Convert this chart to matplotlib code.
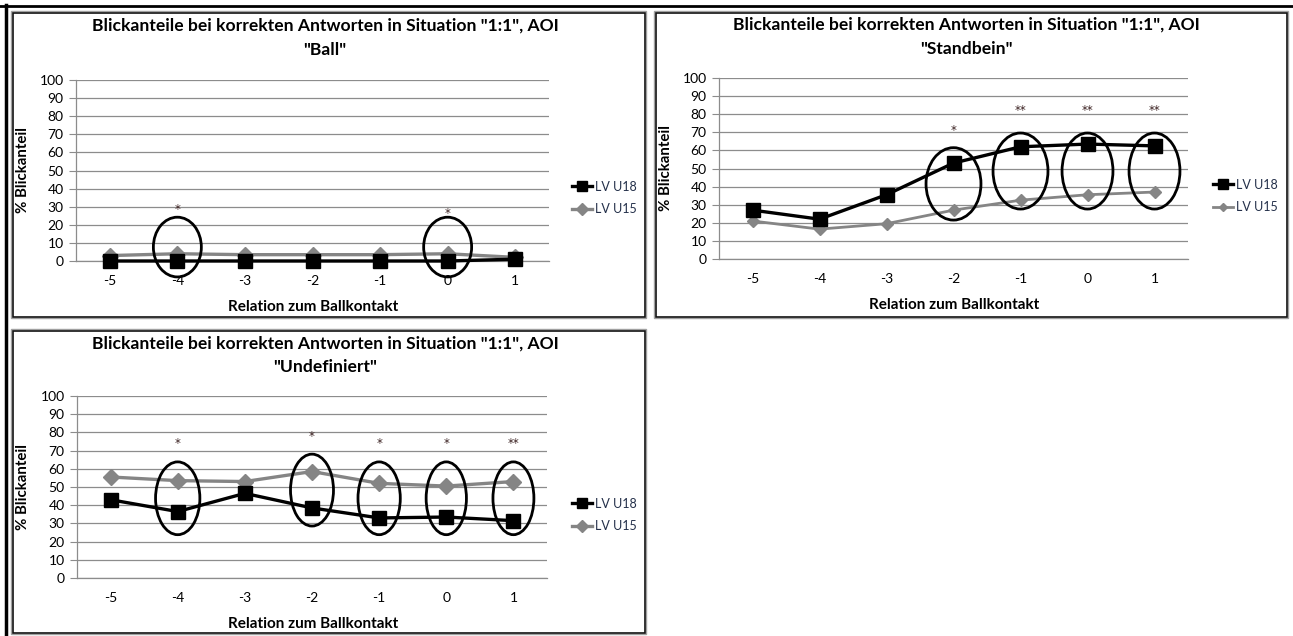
import matplotlib
matplotlib.use("Agg")
import matplotlib.pyplot as plt
from matplotlib.patches import Ellipse, Rectangle
from matplotlib.lines import Line2D

plt.rcParams["font.family"] = ["Lato", "DejaVu Sans"]

# ---- data -------------------------------------------------------------
categories = ["-5", "-4", "-3", "-2", "-1", "0", "1"]
yticks = [0, 10, 20, 30, 40, 50, 60, 70, 80, 90, 100]
series_names = ["LV U18", "LV U15"]

ball_u18 = [0, 0, 0, 0, 0, 0, 1]
ball_u15 = [3, 4, 3.5, 3.5, 3.5, 4, 2]

standbein_u18 = [27, 22, 35.5, 53, 62, 63.5, 62.5]
standbein_u15 = [21, 16.5, 19.5, 27, 32.5, 35.5, 37]

undef_u18 = [43, 36.5, 46.5, 38.5, 33, 33.5, 31.5]
undef_u15 = [55.5, 53.5, 53, 58.5, 52, 50.5, 53]

# significance markers per category
ball_sig = {"-4": "*", "0": "*"}
standbein_sig = {"-2": "*", "-1": "**", "0": "**", "1": "**"}
undef_sig = {"-4": "*", "-2": "*", "-1": "*", "0": "*", "1": "**"}

title_main = 'Blickanteile bei korrekten Antworten in Situation "1:1", AOI'
aoi_names = ['"Ball"', '"Standbein"', '"Undefiniert"']
xlabel = "Relation zum Ballkontakt"
ylabel = "% Blickanteil"

# ---- layout helpers ---------------------------------------------------
W, H = 1293, 636
fig = plt.figure(figsize=(W / 100, H / 100), dpi=100)
fig.patch.set_facecolor("white")


def fx(x):
    return x / W


def fy(y):
    return 1 - y / H


def box(l, t, r, b):
    return [fx(l), fy(b), fx(r) - fx(l), fy(t) - fy(b)]


GRID = "#8c8c8c"
U15_COL = "#858585"
SIG_COL = "#3a2020"


def panel(frame, axbox, u18, u15, sig, ellipses, aoi, title_y, title_x,
          ylab_xy, xlab_y, legend_xy, u15_lw=2.4, u15_ms=8.5):
    # chart-area frame: grey outer line with a dark line inside
    l, t, r, b = frame
    fig.patches.append(Rectangle((fx(l), fy(b)), fx(r) - fx(l), fy(t) - fy(b),
                                 transform=fig.transFigure, fill=False,
                                 edgecolor="#a0a0a0", lw=1.0, zorder=0))
    fig.patches.append(Rectangle((fx(l + 1.5), fy(b - 1.5)),
                                 fx(r - l - 3), fy(t) - fy(b - 3),
                                 transform=fig.transFigure, fill=False,
                                 edgecolor="#111111", lw=1.2, zorder=0))

    ax = fig.add_axes(box(*axbox))
    x = list(range(len(categories)))
    l18, = ax.plot(x, u18, color="black", lw=2.4, marker="s", ms=10,
                   label=series_names[0], zorder=4, clip_on=False)
    l15, = ax.plot(x, u15, color=U15_COL, lw=u15_lw, marker="D", ms=u15_ms,
                   label=series_names[1], zorder=3, clip_on=False)

    ax.set_xlim(-0.5, len(categories) - 0.5)
    ax.set_ylim(0, 100)
    ax.set_yticks(yticks)
    ax.set_xticks(x)
    ax.set_xticklabels(categories)
    ax.yaxis.grid(True, color=GRID, lw=0.9)
    ax.set_axisbelow(True)
    for s in ("top", "right"):
        ax.spines[s].set_visible(False)
    for s in ("left", "bottom"):
        ax.spines[s].set_color(GRID)
        ax.spines[s].set_linewidth(0.9)
    ax.tick_params(axis="y", length=5, color=GRID, pad=4, labelsize=10)
    ax.tick_params(axis="x", length=0, pad=10, labelsize=10)

    for cat, cy, w, h in ellipses:
        i = categories.index(cat)
        ax.add_patch(Ellipse((i, cy), w, h, fill=False, ec="black", lw=2.0,
                             zorder=6, clip_on=False))
    for cat, (mark, yv) in sig.items():
        i = categories.index(cat)
        ax.text(i, yv, mark, ha="center", va="center", fontsize=8.5,
                family="DejaVu Sans", color=SIG_COL, zorder=7)

    fig.text(fx(title_x), fy(title_y[0]), title_main, ha="center",
             va="center", fontsize=12.6, fontweight="bold")
    fig.text(fx(title_x), fy(title_y[1]), aoi, ha="center",
             va="center", fontsize=12.6, fontweight="bold")
    fig.text(fx(ylab_xy[0]), fy(ylab_xy[1]), ylabel, rotation=90,
             ha="center", va="center", fontsize=10.8, fontweight="bold")
    fig.text(fx(title_x - 12), fy(xlab_y), xlabel, ha="center", va="center",
             fontsize=11, fontweight="bold")

    leg = ax.legend(handles=[l18, l15], loc="center left",
                    bbox_to_anchor=(fx(legend_xy[0]), fy(legend_xy[1])),
                    bbox_transform=fig.transFigure, frameon=False,
                    fontsize=9, handlelength=1.6, handletextpad=0.2,
                    labelspacing=0.85, markerscale=0.7, borderpad=0)
    for txt in leg.get_texts():
        txt.set_color("#24304a")
    return ax


# page frame lines (top and left)
fig.add_artist(Line2D([0, 1], [fy(5.5), fy(5.5)], transform=fig.transFigure,
                      color="black", lw=2.0))
fig.add_artist(Line2D([fx(5.5), fx(5.5)], [0, fy(5)], transform=fig.transFigure,
                      color="black", lw=2.5))

panel(frame=(11, 11, 646, 318), axbox=(76, 80, 549, 261),
      u18=ball_u18, u15=ball_u15,
      sig={k: (v, 28.5 if k == "-4" else 26) for k, v in ball_sig.items()},
      ellipses=[("-4", 7.7, 0.71, 33), ("0", 7.7, 0.71, 33)],
      aoi=aoi_names[0], title_y=(26, 50), title_x=325,
      ylab_xy=(23, 170), xlab_y=307, legend_xy=(566, 198))

panel(frame=(654, 11, 1288, 318), axbox=(719, 78, 1188, 259),
      u18=standbein_u18, u15=standbein_u15,
      sig={k: (v, 71 if k == "-2" else 82) for k, v in standbein_sig.items()},
      ellipses=[("-2", 41.5, 0.82, 40), ("-1", 48.6, 0.82, 42),
                ("0", 48.6, 0.76, 42), ("1", 48.6, 0.76, 42)],
      aoi=aoi_names[1], title_y=(25, 49), title_x=966,
      ylab_xy=(666, 168), xlab_y=305, legend_xy=(1207, 196),
      u15_lw=2.0, u15_ms=6.5)

panel(frame=(11, 329, 646, 634), axbox=(77, 396, 547, 578),
      u18=undef_u18, u15=undef_u15,
      sig={k: (v, 78 if k == "-2" else 74) for k, v in undef_sig.items()},
      ellipses=[("-4", 43.8, 0.66, 40), ("-2", 48.3, 0.64, 39.5),
                ("-1", 43.8, 0.63, 40), ("0", 43.8, 0.60, 40),
                ("1", 43.8, 0.61, 40)],
      aoi=aoi_names[2], title_y=(344, 367), title_x=325,
      ylab_xy=(23, 487), xlab_y=624, legend_xy=(566, 515))

fig.savefig("out.png", dpi=100, facecolor="white")
